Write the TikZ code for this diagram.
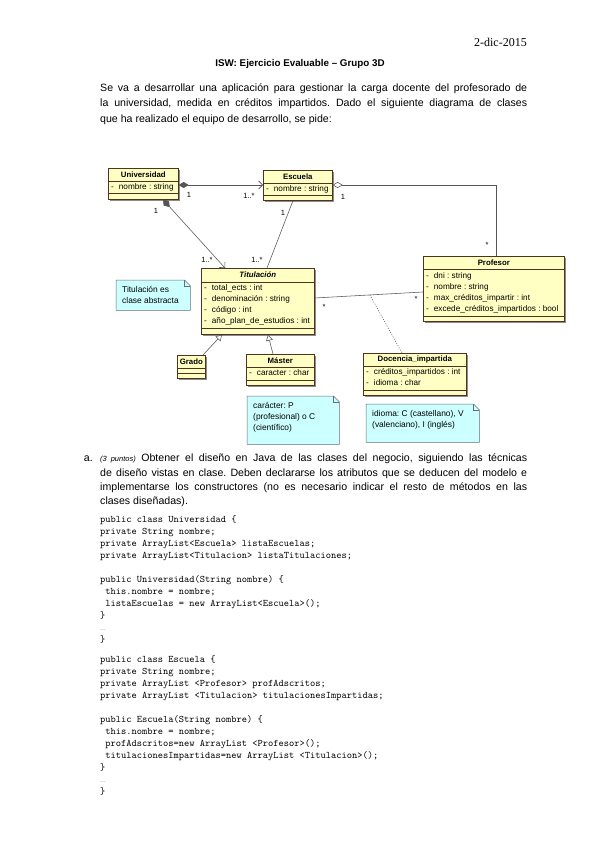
\documentclass[tikz,border=0pt]{standalone}
\usepackage{fontspec}
\setmainfont{Liberation Sans}
\newfontfamily\seriffont{Liberation Serif}
\usetikzlibrary{arrows.meta,shadows,calc}
\frenchspacing
\definecolor{clsfill}{RGB}{255,255,196}
\definecolor{clsdraw}{RGB}{80,50,30}
\definecolor{notefill}{RGB}{204,255,255}
\definecolor{notedraw}{RGB}{100,110,120}
\definecolor{edgecol}{RGB}{85,85,85}
\newcommand\dgfont{\fontsize{8.2}{9}\selectfont}
\newcommand\hdfont{\fontsize{7.8}{9}\selectfont}
\newcommand\bodyfont{\fontsize{10.6}{12}\selectfont}
\newcommand\dsh{-\hspace{5pt}}
\tikzset{
  cls/.style={draw=clsdraw, fill=clsfill, line width=0.6pt, anchor=north west, inner sep=0pt,
    drop shadow={shadow xshift=2pt, shadow yshift=-2pt, fill=black!45, opacity=1}},
  sep/.style={draw=clsdraw, line width=0.5pt},
  hdr/.style={font=\hdfont\bfseries, inner sep=0pt},
  attr/.style={font=\dgfont, inner sep=0pt, anchor=west},
  mult/.style={font=\fontsize{7.5}{8}\selectfont, inner sep=0pt},
  edge/.style={draw=edgecol, line width=0.55pt},
  notebox/.style={anchor=north west, inner sep=0pt},
  notepath/.style={draw=notedraw, fill=notefill, line width=0.5pt},
  notetext/.style={font=\fontsize{8.4}{11}\selectfont, align=left, inner sep=0pt, anchor=north west},
  body/.style={font=\bodyfont, inner sep=0pt, anchor=base west},
  codeline/.style={font=\ttfamily\fontsize{10}{12}\selectfont, inner sep=0pt, anchor=base west},
  ellip/.style={font=\fontsize{6}{7}\selectfont, text=black!55, inner sep=0pt, anchor=base west},
}
\begin{document}
\begin{tikzpicture}[x=1pt,y=-1pt]
\useasboundingbox (0,0) rectangle (599,848);
\fill[white] (0,0) rectangle (599,848);

% header texts
\node[font=\seriffont\fontsize{12}{14}\selectfont, inner sep=0pt, anchor=base east] (date) at (527,47) {2-dic-2015};
\node[font=\bfseries\fontsize{9.8}{12}\selectfont, inner sep=0pt, anchor=base] (title) at (300,67) {ISW: Ejercicio Evaluable – Grupo 3D};

\node[body] (p1) at (100,92) {\makebox[427pt][s]{Se va a desarrollar una aplicación para gestionar la carga docente del profesorado de}};
\node[body] (p2) at (100,107) {\makebox[427pt][s]{la universidad, medida en créditos impartidos. Dado el siguiente diagrama de clases}};
\node[body] (p3) at (100,122) {que ha realizado el equipo de desarrollo, se pide:};

% ---------------- classes
% Universidad
\node[cls, minimum width=70pt, minimum height=31pt] (univ) at (108,168) {};
\node[hdr] (univH) at ($(univ.north)+(0,7)$) {Universidad};
\draw[sep] ($(univ.north west)+(0,13)$) -- ($(univ.north east)+(0,13)$);
\node[attr] (univA) at ($(univ.north west)+(3,19)$) {\dsh nombre : string};
\draw[sep] ($(univ.north west)+(0,25)$) -- ($(univ.north east)+(0,25)$);

% Escuela
\node[cls, minimum width=69pt, minimum height=30pt] (esc) at (263,170) {};
\node[hdr] (escH) at ($(esc.north)+(0,7)$) {Escuela};
\draw[sep] ($(esc.north west)+(0,13)$) -- ($(esc.north east)+(0,13)$);
\node[attr] (escA) at ($(esc.north west)+(3,19)$) {\dsh nombre : string};
\draw[sep] ($(esc.north west)+(0,25)$) -- ($(esc.north east)+(0,25)$);

% Titulacion
\node[cls, minimum width=113pt, minimum height=66pt] (tit) at (201,268) {};
\node[hdr, font=\hdfont\bfseries\itshape] (titH) at ($(tit.north)+(0,7)$) {Titulación};
\draw[sep] ($(tit.north west)+(0,14)$) -- ($(tit.north east)+(0,14)$);
\node[attr] (titA1) at ($(tit.north west)+(3,20)$) {\dsh total\_ects : int};
\node[attr] (titA2) at ($(tit.north west)+(3,31)$) {\dsh denominación : string};
\node[attr] (titA3) at ($(tit.north west)+(3,42)$) {\dsh código : int};
\node[attr] (titA4) at ($(tit.north west)+(3,53)$) {\dsh año\_plan\_de\_estudios : int};
\draw[sep] ($(tit.north west)+(0,60)$) -- ($(tit.north east)+(0,60)$);

% Profesor
\node[cls, minimum width=141pt, minimum height=65pt] (prof) at (423,256) {};
\node[hdr] (profH) at ($(prof.north)+(0,6.5)$) {Profesor};
\draw[sep] ($(prof.north west)+(0,13)$) -- ($(prof.north east)+(0,13)$);
\node[attr] (profA1) at ($(prof.north west)+(3,20)$) {\dsh dni : string};
\node[attr] (profA2) at ($(prof.north west)+(3,31)$) {\dsh nombre : string};
\node[attr] (profA3) at ($(prof.north west)+(3,42)$) {\dsh max\_créditos\_impartir : int};
\node[attr] (profA4) at ($(prof.north west)+(3,53)$) {\dsh excede\_créditos\_impartidos : bool};
\draw[sep] ($(prof.north west)+(0,60)$) -- ($(prof.north east)+(0,60)$);

% Docencia_impartida
\node[cls, minimum width=103pt, minimum height=42pt] (doc) at (363,353) {};
\node[hdr] (docH) at ($(doc.north)+(0,6.5)$) {Docencia\_impartida};
\draw[sep] ($(doc.north west)+(0,13)$) -- ($(doc.north east)+(0,13)$);
\node[attr] (docA1) at ($(doc.north west)+(3,19)$) {\dsh créditos\_impartidos : int};
\node[attr] (docA2) at ($(doc.north west)+(3,30)$) {\dsh idioma : char};
\draw[sep] ($(doc.north west)+(0,37)$) -- ($(doc.north east)+(0,37)$);

% Grado
\node[cls, minimum width=28pt, minimum height=23pt] (grado) at (177,355) {};
\node[hdr] (gradoH) at ($(grado.north)+(0,7)$) {Grado};
\draw[sep] ($(grado.north west)+(0,13)$) -- ($(grado.north east)+(0,13)$);
\draw[sep] ($(grado.north west)+(0,18)$) -- ($(grado.north east)+(0,18)$);

% Master
\node[cls, minimum width=68pt, minimum height=31pt] (master) at (246,354) {};
\node[hdr] (masterH) at ($(master.north)+(0,7)$) {Máster};
\draw[sep] ($(master.north west)+(0,13)$) -- ($(master.north east)+(0,13)$);
\node[attr] (masterA) at ($(master.north west)+(3,19)$) {\dsh caracter : char};
\draw[sep] ($(master.north west)+(0,26)$) -- ($(master.north east)+(0,26)$);

% ---------------- notes
\node[notebox, minimum width=74pt, minimum height=30pt] (n1) at (116,280) {};
\draw[notepath] (n1.north west) -- ($(n1.north east)+(-6,0)$) -- ($(n1.north east)+(0,6)$) -- (n1.south east) -- (n1.south west) -- cycle;
\draw[draw=notedraw, line width=0.5pt] ($(n1.north east)+(-6,0)$) -- ($(n1.north east)+(-6,6)$) -- ($(n1.north east)+(0,6)$);
\node[notetext] (n1t) at (122,286) {Titulación es\\clase abstracta};

\node[notebox, minimum width=92pt, minimum height=48pt] (n2) at (247,396) {};
\draw[notepath] (n2.north west) -- ($(n2.north east)+(-6,0)$) -- ($(n2.north east)+(0,6)$) -- (n2.south east) -- (n2.south west) -- cycle;
\draw[draw=notedraw, line width=0.5pt] ($(n2.north east)+(-6,0)$) -- ($(n2.north east)+(-6,6)$) -- ($(n2.north east)+(0,6)$);
\node[notetext] (n2t) at (253,402) {carácter: P\\(profesional) o C\\(científico)};

\node[notebox, minimum width=113pt, minimum height=38pt] (n3) at (366,404) {};
\draw[notepath] (n3.north west) -- ($(n3.north east)+(-6,0)$) -- ($(n3.north east)+(0,6)$) -- (n3.south east) -- (n3.south west) -- cycle;
\draw[draw=notedraw, line width=0.5pt] ($(n3.north east)+(-6,0)$) -- ($(n3.north east)+(-6,6)$) -- ($(n3.north east)+(0,6)$);
\node[notetext] (n3t) at (372,410) {idioma: C (castellano), V\\(valenciano), I (inglés)};

% ---------------- connectors
\draw[edge, {Diamond[length=10pt,width=6pt]}-{Straight Barb[length=4pt,width=8pt]}]
  ($(univ.north east)+(0,17)$) -- ($(esc.north west)+(0,15)$);
\draw[edge, {Diamond[length=10pt,width=7pt]}-{Straight Barb[length=4pt,width=8pt]}]
  ($(univ.south west)+(55,0)$) -- ($(tit.north west)+(24,0)$);
\draw[edge] ($(esc.south west)+(30,0)$) -- ($(tit.north west)+(66,0)$);
\draw[edge, {Diamond[open,fill=white,length=10pt,width=6pt]}-]
  ($(esc.north east)+(0,15)$) -| ($(prof.north west)+(73,0)$);
\draw[edge] ($(tit.north east)+(0,30)$) -- coordinate[pos=0.51] (assoc) ($(prof.north west)+(0,36)$);
\draw[edge, dash pattern=on 1pt off 1.5pt] (assoc) -- ($(doc.north west)+(39,0)$);
\draw[edge, -{Triangle[open,fill=white,length=6pt,width=7pt]}]
  ($(grado.north west)+(26,0)$) -- ($(tit.south west)+(21,0)$);
\draw[edge, -{Triangle[open,fill=white,length=6pt,width=7pt]}]
  ($(master.north west)+(27,0)$) -- ($(tit.south west)+(67,0)$);

% multiplicities
\node[mult] (m1) at (189,195) {1};
\node[mult] (m2) at (249,196) {1..*};
\node[mult] (m3) at (156,211) {1};
\node[mult] (m4) at (207,260) {1..*};
\node[mult] (m5) at (283,213) {1};
\node[mult] (m6) at (257,260) {1..*};
\node[mult] (m7) at (343,197) {1};
\node[mult] (m8) at (487,245) {*};
\node[mult] (m9) at (324,307) {*};
\node[mult] (m10) at (416,299) {*};

% ---------------- question a
\node[body, anchor=base east] (qa) at (93,461) {a.};
\node[body] (a1) at (100,461) {\makebox[427pt][s]{{\itshape\fontsize{7.5}{8}\selectfont (3 puntos)} Obtener el diseño en Java de las clases del negocio, siguiendo las técnicas}};
\node[body] (a2) at (100,476) {\makebox[427pt][s]{de diseño vistas en clase. Deben declararse los atributos que se deducen del modelo e}};
\node[body] (a3) at (100,490) {\makebox[427pt][s]{implementarse los constructores (no es necesario indicar el resto de métodos en las}};
\node[body] (a4) at (100,504) {clases diseñadas).};

% ---------------- code
\node[codeline] (c1) at (100,522) {public class Universidad \{};
\node[codeline] (c2) at (100,534) {private String nombre;};
\node[codeline] (c3) at (100,546) {private ArrayList<Escuela> listaEscuelas;};
\node[codeline] (c4) at (100,558) {private ArrayList<Titulacion> listaTitulaciones;};
\node[codeline] (c5) at (100,582) {public Universidad(String nombre) \{};
\node[codeline] (c6) at (100,594) {\hphantom{x}this.nombre = nombre;};
\node[codeline] (c7) at (100,606) {\hphantom{x}listaEscuelas = new ArrayList<Escuela>();};
\node[codeline] (c8) at (100,618) {\}};
\node[ellip] (c9) at (100,630) {…};
\node[codeline] (c10) at (100,642) {\}};

\node[codeline] (d1) at (100,662) {public class Escuela \{};
\node[codeline] (d2) at (100,674) {private String nombre;};
\node[codeline] (d3) at (100,686) {private ArrayList <Profesor> profAdscritos;};
\node[codeline] (d4) at (100,698) {private ArrayList <Titulacion> titulacionesImpartidas;};
\node[codeline] (d5) at (100,722) {public Escuela(String nombre) \{};
\node[codeline] (d6) at (100,734) {\hphantom{x}this.nombre = nombre;};
\node[codeline] (d7) at (100,746) {\hphantom{x}profAdscritos=new ArrayList <Profesor>();};
\node[codeline] (d8) at (100,758) {\hphantom{x}titulacionesImpartidas=new ArrayList <Titulacion>();};
\node[codeline] (d9) at (100,770) {\}};
\node[ellip] (d10) at (100,782) {…};
\node[codeline] (d11) at (100,794) {\}};
\end{tikzpicture}
\end{document}
